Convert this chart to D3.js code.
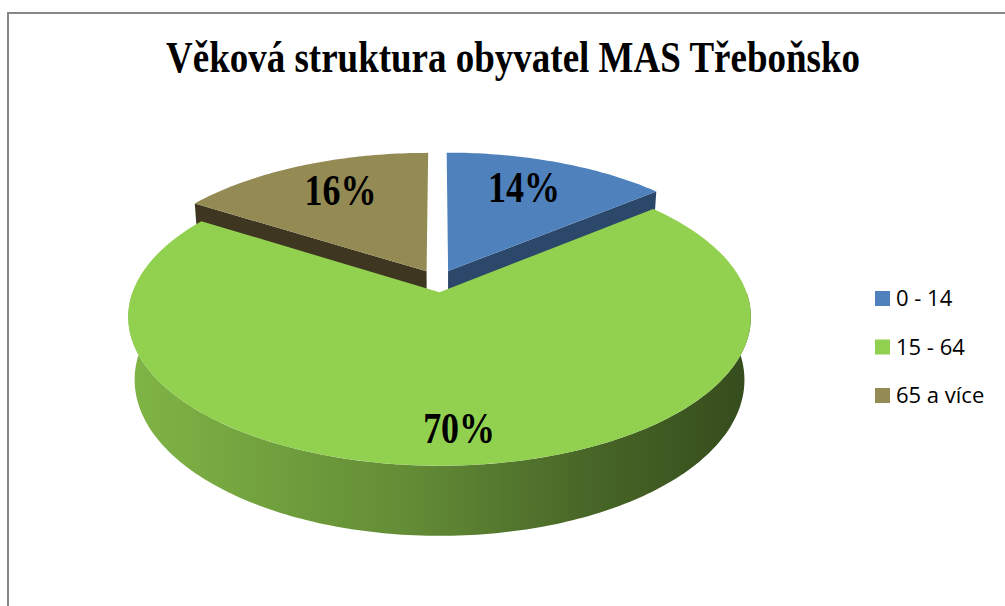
<!DOCTYPE html>
<html>
<head>
<meta charset="utf-8">
<script src="https://cdn.jsdelivr.net/npm/d3@7"></script>
<style>
  body { margin: 0; background: #fff; }
  svg { display: block; }
</style>
</head>
<body>
<script>
// Age groups and their shares (%)
const categories = ["0 - 14", "15 - 64", "65 a více"];
const shares = [14, 70, 16];
const labels = ["14%", "70%", "16%"];

const colors = ["#4F81BD", "#92D050", "#948A54"];
const wallColors = ["#2B4769", "#5E8C37", "#3E3621"];
const labelRadius = [0.66, 0.86, 0.66]; // fraction of radius where the % label sits

const width = 1005, height = 606;

// 3D pie set-up
const cx = 438, cy = 281;
const R = 303;         // radius of the disc
const depth = 71;      // thickness
const explode = 24;    // slice offset from centre
const tilt = 27.7 * Math.PI / 180;
const dist = 1635;     // camera distance (perspective)
const sp = Math.sin(tilt), cp = Math.cos(tilt);

const serif = "'Liberation Serif', 'Times New Roman', serif";

const svg = d3.select("body").append("svg")
  .attr("width", width)
  .attr("height", height);

// chart frame
svg.append("rect")
  .attr("x", 8).attr("y", 13)
  .attr("width", 1030).attr("height", 630)
  .attr("fill", "#fff")
  .attr("stroke", "#868686")
  .attr("stroke-width", 2);

// the original text is a bit stretched vertically
svg.append("text")
  .attr("transform", "translate(513,72) scale(1,1.2)")
  .attr("text-anchor", "middle")
  .attr("font-family", serif)
  .attr("font-weight", "bold")
  .attr("font-size", 37)
  .text("Věková struktura obyvatel MAS Třeboňsko");

// project a point of the disc (X right, Y up, Z toward viewer)
function project(X, Y, Z) {
  const u = Y * cp - Z * sp;
  const w = Y * sp + Z * cp;
  const s = dist / (dist - w);
  return [cx + X * s, cy - u * s];
}

const pie = d3.pie().sort(null).value(d => d);
const arcs = pie(shares).map((a, i) => {
  const mid = (a.startAngle + a.endAngle) / 2;
  return {
    i: i,
    a0: a.startAngle,
    a1: a.endAngle,
    mid: mid,
    ox: explode * Math.sin(mid),
    oz: -explode * Math.cos(mid)
  };
});

function rimPoint(sl, r, ang, Y) {
  return project(sl.ox + r * Math.sin(ang), Y, sl.oz - r * Math.cos(ang));
}

function arcPoints(sl, a0, a1, Y) {
  const n = Math.max(2, Math.ceil((a1 - a0) / (Math.PI / 180)));
  return d3.range(n + 1).map(k => rimPoint(sl, R, a0 + (a1 - a0) * k / n, Y));
}

const closed = d3.line().curve(d3.curveLinearClosed);

// side gradients (lighter on the left, dark on the right)
const defs = svg.append("defs");
arcs.forEach(sl => {
  const base = d3.color(colors[sl.i]);
  const g = defs.append("linearGradient")
    .attr("id", "side" + sl.i)
    .attr("gradientUnits", "userSpaceOnUse")
    .attr("x1", cx - R).attr("x2", cx + R)
    .attr("y1", 0).attr("y2", 0);
  [[0, 0.4], [0.45, 1.1], [0.75, 2.0], [1, 2.8]].forEach(([o, k]) => {
    g.append("stop").attr("offset", o).attr("stop-color", base.darker(k).formatHex());
  });
});

const pieG = svg.append("g");

// far slices first
arcs.slice().sort((a, b) => a.oz - b.oz).forEach(sl => {
  const g = pieG.append("g");

  // radial cut walls
  [[sl.a0, sl.a0 - Math.PI / 2], [sl.a1, sl.a1 + Math.PI / 2]].forEach(([ang, normal]) => {
    if (Math.cos(normal) < -0.01) {
      const pts = [
        rimPoint(sl, 0, ang, 0),
        rimPoint(sl, R, ang, 0),
        rimPoint(sl, R, ang, -depth),
        rimPoint(sl, 0, ang, -depth)
      ];
      g.append("path").attr("d", closed(pts)).attr("fill", wallColors[sl.i]);
    }
  });

  // outer wall (front half only)
  const w0 = Math.max(sl.a0, Math.PI / 2), w1 = Math.min(sl.a1, 3 * Math.PI / 2);
  if (w1 > w0) {
    const top = arcPoints(sl, w0, w1, 0);
    const bottom = arcPoints(sl, w0, w1, -depth).reverse();
    g.append("path").attr("d", closed(top.concat(bottom))).attr("fill", `url(#side${sl.i})`);
  }

  // top face
  const face = [rimPoint(sl, 0, 0, 0)].concat(arcPoints(sl, sl.a0, sl.a1, 0));
  g.append("path").attr("d", closed(face)).attr("fill", colors[sl.i]);
});

// percentage labels
arcs.forEach(sl => {
  const [x, y] = rimPoint(sl, R * labelRadius[sl.i], sl.mid, 0);
  svg.append("text")
    .attr("transform", `translate(${x},${y + 6}) scale(1,1.22)`)
    .attr("text-anchor", "middle")
    .attr("font-family", serif)
    .attr("font-weight", "bold")
    .attr("font-size", 36)
    .text(labels[sl.i]);
});

// legend
const legend = svg.append("g").attr("transform", "translate(875,291)");
const legendY = d3.scalePoint().domain(categories).range([0, 97]);
categories.forEach((c, i) => {
  const row = legend.append("g").attr("transform", `translate(0,${legendY(c)})`);
  row.append("rect").attr("width", 15).attr("height", 15).attr("fill", colors[i]);
  row.append("text")
    .attr("x", 21).attr("y", 15)
    .attr("font-family", "'Open Sans', 'Noto Sans', sans-serif")
    .attr("font-size", 22)
    .attr("fill", "#000")
    .text(c);
});
</script>
</body>
</html>
